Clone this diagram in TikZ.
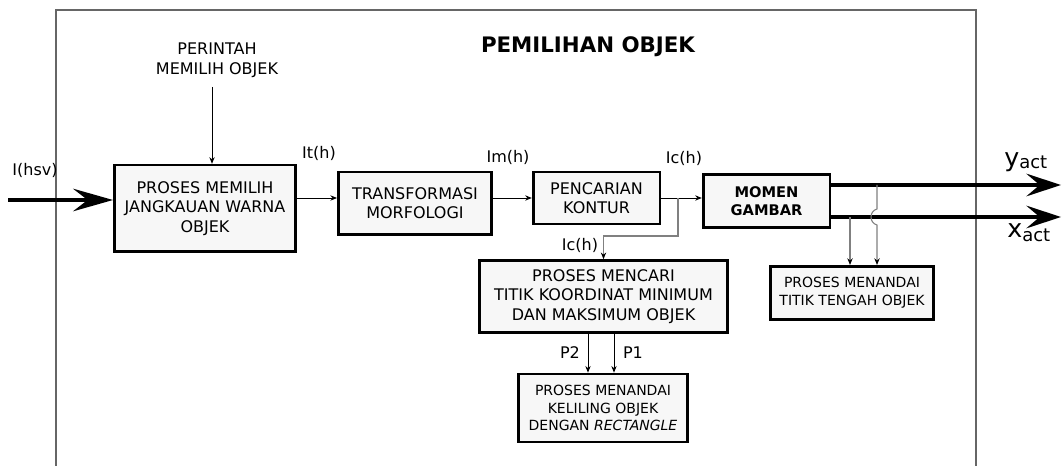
\documentclass[tikz,border=0pt]{standalone}
\usepackage{fontspec}
\setmainfont{DejaVu Sans}
\usetikzlibrary{arrows.meta,calc}

\begin{document}
\begin{tikzpicture}[x=0.75pt,y=-0.75pt,
  blok/.style={draw=black,line width=2pt,fill=black!3,align=center,inner sep=2pt,
    font=\fontsize{12}{14.5}\selectfont},
  kecil/.style={font=\fontsize{10.5}{13.3}\selectfont},
  sinyal/.style={inner sep=0pt,font=\fontsize{12}{14}\selectfont},
  panah/.style={line width=0.7pt,-{Stealth[length=5pt,width=4pt]}},
  cabang/.style={draw=black!50,line width=0.8pt,-{Stealth[length=5pt,width=4pt,black]}},
  tebal/.style={line width=2.3pt,-{Stealth[length=30pt,width=17pt,inset=11pt]}},
  keluar/.style={line width=2.3pt,-{Stealth[length=26pt,width=17pt,inset=10pt]}}]

  \useasboundingbox (0,0) rectangle (1062,466);

  % bingkai (frame)
  \draw[black!60,line width=0.9pt] (56,466) -- (56,10) -- (976,10) -- (976,466);
  \node[font=\bfseries\fontsize{16}{18}\selectfont] (judul) at (588,47) {PEMILIHAN OBJEK};

  % blok proses
  \node[blok,minimum width=136pt,minimum height=65pt] (pilih) at (205,208.5)
    {PROSES MEMILIH\\JANGKAUAN WARNA\\OBJEK};
  \node[blok,minimum width=115pt,minimum height=47pt] (morf) at (415,203.5)
    {TRANSFORMASI\\MORFOLOGI};
  \node[blok,minimum width=95pt,minimum height=39pt] (kontur) at (596.5,198)
    {PENCARIAN\\KONTUR};
  \node[blok,minimum width=95pt,minimum height=40pt,
    font=\bfseries\fontsize{11}{14}\selectfont] (momen) at (766.5,201) {MOMEN\\GAMBAR};
  \node[blok,minimum width=186pt,minimum height=54pt] (cari) at (603.5,296.5)
    {PROSES MENCARI\\TITIK KOORDINAT MINIMUM\\DAN MAKSIMUM OBJEK};
  \node[blok,kecil,minimum width=127pt,minimum height=51pt] (keliling) at (603,408)
    {PROSES MENANDAI\\KELILING OBJEK\\DENGAN \textit{RECTANGLE}};
  \node[blok,kecil,minimum width=122.5pt,minimum height=40pt] (tengah) at (852,293)
    {PROSES MENANDAI\\TITIK TENGAH OBJEK};

  % perintah
  \node[align=center,font=\fontsize{12}{15}\selectfont] (perintah) at (217,60)
    {PERINTAH\\MEMILIH OBJEK};
  \coordinate (pa) at (212,87);
  \draw[panah] (pa) -- (pa |- pilih.north);

  % masukan
  \coordinate (masuk) at (8,200);
  \draw[tebal] (masuk) -- (masuk -| pilih.west);
  \node[sinyal] (lhsv) at (35,170) {I(hsv)};

  % aliran utama
  \draw[panah] (pilih.east |- kontur.east) -- (morf.west |- kontur.east);
  \draw[panah] (morf.east |- kontur.east) -- (kontur.west);
  \draw[panah] (kontur.east) -- (kontur.east -| momen.west);
  \node[sinyal] (lit) at (319,153) {It(h)};
  \node[sinyal] (lim) at (508,157) {Im(h)};
  \node[sinyal] (lic) at (684,158) {Ic(h)};

  % cabang ke pencarian titik
  \coordinate (cab) at (678,236);
  \draw[cabang] (cab |- kontur.east) -- (cab) -| (cari.north);
  \node[sinyal] (lic2) at (580,245) {Ic(h)};

  % P1 P2
  \coordinate (p2) at (588,0);
  \coordinate (p1) at (614,0);
  \draw[panah] (p2 |- cari.south) -- (p2 |- keliling.north);
  \draw[panah] (p1 |- cari.south) -- (p1 |- keliling.north);
  \node[sinyal] (lp2) at (570,353) {P2};
  \node[sinyal] (lp1) at (633,353) {P1};

  % keluaran
  \coordinate (yakhir) at (1061,185);
  \coordinate (xakhir) at (1061,217);
  \draw[keluar] (yakhir -| momen.east) -- (yakhir);
  \draw[keluar] (xakhir -| momen.east) -- (xakhir);
  \node[anchor=base west,inner sep=0pt,font=\fontsize{19}{20}\selectfont] (ly) at (1004,167)
    {y\raisebox{-1.5pt}{\fontsize{13.5}{14}\selectfont act}};
  \node[anchor=base west,inner sep=0pt,font=\fontsize{19}{20}\selectfont] (lx) at (1007,238)
    {x\raisebox{-3pt}{\fontsize{13.5}{14}\selectfont act}};

  % ke titik tengah
  \coordinate (t1) at (850,0);
  \coordinate (t2) at (877,0);
  \draw[cabang] (t1 |- xakhir) -- (t1 |- tengah.north);
  \draw[cabang] (t2 |- yakhir) -- ($(t2 |- xakhir)+(0,-8)$)
    .. controls +(-8,2) and +(-8,-2) .. ($(t2 |- xakhir)+(0,8)$) -- (t2 |- tengah.north);
\end{tikzpicture}
\end{document}
